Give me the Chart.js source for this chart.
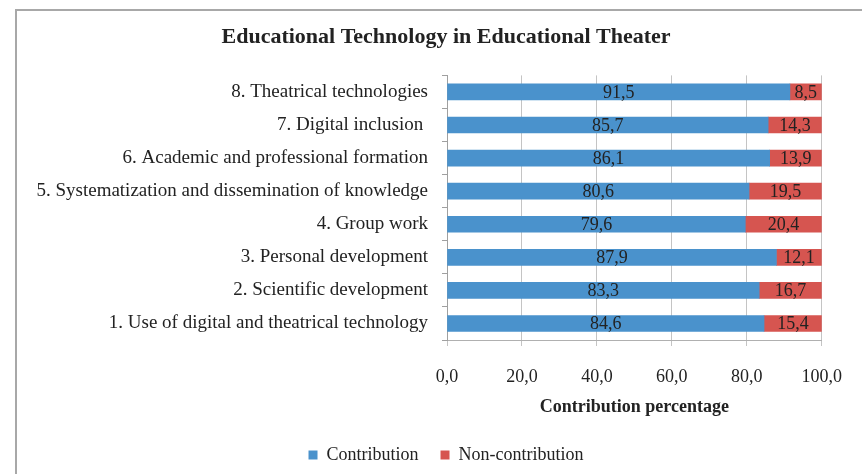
<!DOCTYPE html>
<html>
<head>
<meta charset="utf-8">
<script src="https://cdn.jsdelivr.net/npm/chart.js@4.4.1/dist/chart.umd.min.js"></script>
<style>
  html, body { margin: 0; padding: 0; background: #fff; }
  #wrap { position: relative; width: 862px; height: 474px; }
  #frame { position: absolute; left: 15px; top: 9px; right: 0; bottom: 0;
           border-left: 2px solid #a8a8a8; border-top: 2px solid #a8a8a8; pointer-events: none; }
  canvas { display: block; }
</style>
</head>
<body>
<div id="wrap">
  <canvas id="c" width="862" height="474"></canvas>
  <div id="frame"></div>
</div>
<script>
const categories = [
  "1. Use of digital and theatrical technology",
  "2. Scientific development",
  "3. Personal development",
  "4. Group work",
  "5. Systematization and dissemination of knowledge",
  "6. Academic and professional formation",
  "7. Digital inclusion ",
  "8. Theatrical technologies"
];
const contribution    = [84.6, 83.3, 87.9, 79.6, 80.6, 86.1, 85.7, 91.5];
const nonContribution = [15.4, 16.7, 12.1, 20.4, 19.5, 13.9, 14.3, 8.5];
const xTicks = [0, 20, 40, 60, 80, 100];

const SERIF = "'Liberation Serif', 'Times New Roman', serif";
const fmt = v => v.toFixed(1).replace('.', ',');

const dataLabels = {
  id: 'dataLabels',
  afterDatasetsDraw(chart) {
    const ctx = chart.ctx;
    ctx.save();
    ctx.font = "18px " + SERIF;
    ctx.fillStyle = '#222';
    ctx.textAlign = 'center';
    ctx.textBaseline = 'middle';
    chart.data.datasets.forEach((ds, di) => {
      const meta = chart.getDatasetMeta(di);
      meta.data.forEach((el, i) => {
        const cx = (el.x + el.base) / 2;
        ctx.fillText(fmt(ds.data[i]), cx, el.y + 1);
      });
    });
    ctx.restore();
  }
};

new Chart(document.getElementById('c'), {
  type: 'bar',
  data: {
    labels: categories,
    datasets: [
      { label: 'Contribution', data: contribution, backgroundColor: '#4a92cc', barThickness: 16 },
      { label: 'Non-contribution', data: nonContribution, backgroundColor: '#d65550', barThickness: 16 }
    ]
  },
  options: {
    indexAxis: 'y',
    responsive: false,
    animation: false,
    layout: { padding: { left: 69, right: 39, top: 0, bottom: 0 } },
    scales: {
      x: {
        stacked: true,
        min: 0, max: 100,
        afterBuildTicks: s => { s.ticks = xTicks.map(v => ({ value: v })); },
        afterFit: s => { s.height = 84; },
        grid: { color: '#c4c4c4', tickLength: 6, lineWidth: 1 },
        border: { color: '#b0b0b0' },
        ticks: { padding: 20, color: '#222', font: { family: SERIF, size: 18 }, callback: v => fmt(v) },
        title: { display: true, text: 'Contribution percentage', color: '#222',
                 font: { family: SERIF, size: 18, weight: 'bold' }, padding: { top: 4, bottom: 6 } }
      },
      y: {
        stacked: true,
        reverse: true,
        afterFit: s => { s.width = 378; s._computeLabelArea = () => undefined; },
        grid: { drawOnChartArea: false, tickLength: 5, color: '#a0a0a0' },
        border: { color: '#a0a0a0' },
        ticks: { padding: 14, color: '#222', font: { family: SERIF, size: 19 } }
      }
    },
    plugins: {
      title: { display: true, text: 'Educational Technology in Educational Theater', color: '#222',
               font: { family: SERIF, size: 22, weight: 'bold' }, padding: { top: 24, bottom: 25 } },
      legend: { position: 'bottom',
                labels: { boxWidth: 9, boxHeight: 9, padding: 22, color: '#222',
                          font: { family: SERIF, size: 18 } } },
      tooltip: { enabled: false }
    }
  },
  plugins: [dataLabels]
});
</script>
</body>
</html>
